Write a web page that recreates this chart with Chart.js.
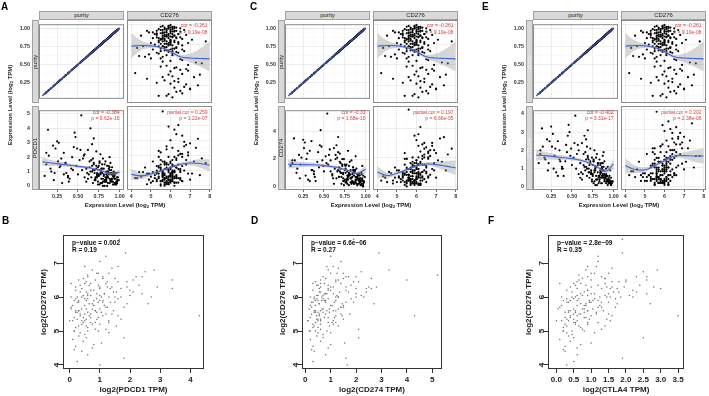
<!DOCTYPE html>
<html>
<head>
<meta charset="utf-8">
<script src="https://cdn.jsdelivr.net/npm/chart.js@4.4.1/dist/chart.umd.min.js"></script>
<style>
html, body { margin: 0; padding: 0; background: #fff; overflow: hidden; }
body { width: 709px; height: 396px; position: relative; font-family: "Liberation Sans", Arial, sans-serif; }
canvas { position: absolute; }
.lbl { position: absolute; white-space: nowrap; line-height: 1; color: #1a1a1a; }
.lbl sub { font-size: 70%; vertical-align: -0.2em; line-height: 0; }
.letter { font-size: 10px; font-weight: bold; color: #000; }
.atitle { font-size: 6px; font-weight: bold; color: #222; }
.strip-t { font-size: 6px; color: #1a1a1a; }
.strip-f { font-size: 6px; color: #f2f2f2; }
.cor { font-size: 5px; color: #dd3b3b; }
.pval { font-size: 6.5px; font-weight: bold; color: #111; line-height: 1; }
.strip { position: absolute; background: #d9d9d9; border: 0.5px solid #a0a0a0; box-sizing: border-box; }
</style>
</head>
<body>
<script>
// TIMER samples (tumour purity, CD276 and immune checkpoint genes, log2 TPM)
const purity = [
  0.92, 0.85, 0.78, 0.95, 0.66, 0.88, 0.72, 0.81, 0.97, 0.58,
  0.90, 0.76, 0.84, 0.69, 0.93, 0.79, 0.62, 0.87, 0.74, 0.96,
  0.45, 0.30, 0.18, 0.38, 0.25, 0.12, 0.50, 0.33, 0.21, 0.42,
  0.89, 0.83, 0.71, 0.94, 0.77, 0.68, 0.86, 0.91, 0.64, 0.80,
  0.73, 0.98, 0.82, 0.55, 0.88, 0.75, 0.92, 0.67, 0.85, 0.60,
  0.79, 0.94, 0.70, 0.87, 0.63, 0.96, 0.76, 0.83, 0.57, 0.90,
  0.15, 0.28, 0.35, 0.47, 0.10, 0.40, 0.23, 0.52, 0.31, 0.44,
  0.84, 0.72, 0.93, 0.78, 0.65, 0.89, 0.81, 0.97, 0.69, 0.86,
  0.74, 0.91, 0.58, 0.80, 0.95, 0.67, 0.85, 0.77, 0.62, 0.99,
  0.88, 0.71, 0.83, 0.93, 0.75, 0.60, 0.90, 0.82, 0.54, 0.79,
  0.86, 0.73, 0.96, 0.68, 0.84, 0.92, 0.78, 0.65, 0.87, 0.98,
  0.20, 0.36, 0.14, 0.48, 0.26, 0.39, 0.17, 0.53, 0.33, 0.46,
  0.82, 0.77, 0.91, 0.70, 0.86, 0.94, 0.73, 0.88, 0.80, 0.97,
  0.69, 0.84, 0.92, 0.76, 0.89, 0.66, 0.95, 0.81, 0.74, 0.87,
  0.93, 0.78, 0.85, 0.71, 0.90, 0.64, 0.83, 0.96, 0.75, 0.88,
  0.79, 0.91, 0.68, 0.86, 0.94, 0.72, 0.82, 0.97, 0.77, 0.89,
  0.85, 0.73, 0.92, 0.80, 0.67, 0.95, 0.84, 0.76, 0.90, 0.70,
  0.35, 0.22, 0.43, 0.12, 0.29, 0.49, 0.38, 0.56, 0.61, 0.27
];
const cd276 = [
  5.8, 6.1, 5.4, 5.9, 6.3, 5.2, 5.7, 6.0, 6.2, 5.5,
  4.9, 6.4, 5.6, 5.1, 6.0, 5.8, 6.1, 5.3, 6.6, 5.7,
  6.8, 6.2, 6.5, 5.9, 7.4, 5.8, 6.9, 6.4, 7.0, 6.0,
  5.5, 6.3, 4.3, 6.1, 5.0, 5.9, 5.6, 6.5, 5.4, 6.2,
  4.6, 5.9, 5.7, 6.0, 6.4, 5.2, 4.8, 6.7, 5.8, 5.6,
  6.0, 5.4, 6.2, 6.8, 4.9, 6.3, 5.5, 5.9, 6.5, 5.1,
  6.6, 5.3, 7.2, 6.3, 6.1, 4.2, 6.7, 7.6, 5.7, 6.5,
  6.1, 5.8, 5.6, 6.4, 5.3, 6.0, 7.1, 5.5, 6.6, 4.5,
  5.9, 6.2, 5.0, 5.4, 6.5, 6.1, 5.7, 6.9, 5.8, 6.0,
  5.9, 6.3, 5.1, 6.7, 6.0, 4.7, 5.7, 6.6, 5.6, 7.8,
  6.2, 5.6, 6.1, 5.7, 6.5, 5.3, 6.0, 6.4, 5.8, 5.6,
  7.0, 6.1, 5.9, 5.5, 6.8, 6.6, 6.3, 7.3, 4.8, 6.2,
  5.6, 5.9, 6.0, 5.5, 6.2, 5.8, 5.4, 6.1, 5.7, 5.9,
  6.0, 5.3, 6.3, 5.8, 5.6, 5.9, 6.2, 5.5, 6.1, 5.7,
  5.5, 6.2, 6.0, 5.7, 5.8, 6.1, 5.4, 6.0, 5.9, 6.4,
  5.6, 6.1, 5.8, 5.9, 5.7, 6.3, 5.5, 6.1, 6.0, 5.3,
  5.8, 5.6, 6.2, 6.0, 5.5, 5.9, 6.3, 5.7, 5.6, 6.1,
  5.6, 6.2, 6.9, 5.4, 6.4, 5.8, 7.5, 6.6, 4.4, 6.0
];
const pdcd1 = [
  0.3, 0.9, 1.2, 0.1, 1.8, 0.5, 1.4, 0.7, 0.2, 2.2,
  0.4, 1.1, 0.8, 1.6, 0.6, 0.2, 2.5, 0.9, 1.3, 0.1,
  2.7, 1.9, 1.0, 0.6, 3.1, 1.5, 0.8, 2.3, 0.4, 1.2,
  0.3, 1.7, 0.5, 0.8, 0.2, 1.9, 1.0, 0.5, 1.3, 0.0,
  0.9, 0.4, 1.5, 1.1, 2.0, 0.7, 0.1, 2.9, 0.6, 0.3,
  1.2, 0.5, 0.9, 1.4, 0.8, 0.2, 1.7, 0.4, 2.1, 0.9,
  2.1, 1.3, 1.6, 3.4, 0.7, 0.5, 2.6, 1.8, 0.2, 1.1,
  1.0, 2.4, 0.7, 0.5, 1.0, 1.6, 0.8, 0.3, 3.3, 0.6,
  0.1, 1.3, 0.6, 1.9, 0.9, 1.4, 0.0, 2.2, 0.5, 0.4,
  1.1, 0.6, 0.3, 1.0, 0.8, 1.2, 0.5, 0.3, 4.9, 1.5,
  0.2, 0.7, 0.9, 1.1, 0.4, 0.8, 0.2, 4.0, 1.2, 0.6,
  2.8, 0.9, 3.9, 1.4, 1.7, 0.3, 1.2, 2.5, 0.8, 3.7,
  0.4, 0.9, 0.3, 1.1, 0.6, 0.2, 0.8, 1.3, 0.5, 0.4,
  1.5, 0.3, 0.7, 0.1, 0.9, 0.6, 0.5, 1.2, 0.3, 0.8,
  0.1, 1.0, 0.7, 0.4, 1.1, 1.7, 0.6, 0.3, 1.4, 0.2,
  0.9, 0.5, 0.2, 1.0, 0.7, 1.2, 0.0, 0.6, 0.8, 0.4,
  1.4, 0.6, 0.9, 0.3, 1.0, 0.2, 0.5, 1.6, 0.8, 0.4,
  1.6, 0.9, 2.0, 2.3, 1.4, 2.6, 0.7, 1.9, 0.9, 3.0
];
const cd274 = [
  0.5, 1.2, 0.8, 0.2, 2.1, 0.3, 1.6, 0.9, 0.1, 1.9,
  0.6, 1.5, 0.4, 1.1, 0.3, 0.7, 2.8, 1.0, 2.0, 0.5,
  3.0, 2.4, 1.3, 0.9, 3.4, 1.7, 1.1, 2.6, 0.6, 1.8,
  0.2, 1.9, 0.7, 0.6, 0.3, 1.4, 0.8, 0.9, 2.3, 0.1,
  1.0, 0.3, 1.2, 1.6, 2.2, 0.5, 0.2, 2.5, 1.4, 0.8,
  0.5, 0.1, 1.7, 1.2, 1.3, 0.4, 1.0, 0.2, 2.7, 0.7,
  1.9, 0.8, 3.3, 2.9, 1.5, 0.4, 2.1, 2.2, 0.5, 1.4,
  0.9, 2.0, 0.5, 1.1, 0.6, 1.3, 1.8, 0.0, 2.4, 0.3,
  0.4, 0.8, 1.1, 1.5, 1.0, 3.6, 0.3, 1.6, 0.2, 0.7,
  0.4, 1.0, 0.6, 0.8, 1.2, 0.9, 0.1, 0.6, 5.3, 2.6,
  0.2, 0.4, 1.5, 0.7, 0.3, 0.9, 0.2, 3.0, 1.1, 0.4,
  2.3, 1.2, 3.5, 1.9, 2.8, 0.7, 1.0, 1.7, 0.4, 4.1,
  0.6, 0.4, 0.5, 1.3, 0.2, 0.3, 0.9, 0.7, 1.0, 0.2,
  1.8, 0.4, 0.6, 0.3, 0.5, 1.1, 0.9, 0.8, 0.1, 1.2,
  0.4, 0.6, 1.4, 0.2, 0.9, 2.0, 0.3, 0.6, 1.6, 0.5,
  0.8, 0.2, 0.7, 1.1, 0.4, 1.5, 0.3, 0.8, 0.5, 0.7,
  1.0, 0.6, 0.4, 0.9, 1.2, 0.1, 0.7, 1.3, 0.6, 1.0,
  1.2, 1.6, 2.5, 1.9, 2.0, 1.5, 1.1, 2.3, 0.6, 3.2
];
const ctla4 = [
  0.4, 1.0, 1.1, 0.2, 1.9, 0.6, 1.3, 0.8, 0.1, 2.0,
  0.5, 1.4, 0.9, 1.7, 0.3, 0.4, 2.4, 0.7, 1.6, 0.2,
  2.8, 2.1, 1.5, 1.1, 3.3, 1.8, 1.2, 2.5, 0.9, 1.4,
  0.4, 1.5, 0.8, 0.5, 0.3, 2.2, 1.0, 0.7, 1.2, 0.1,
  0.9, 0.2, 1.3, 1.0, 1.9, 0.6, 0.3, 2.6, 0.8, 0.5,
  1.1, 0.4, 1.5, 1.7, 0.7, 0.3, 1.4, 0.6, 2.3, 0.5,
  2.2, 1.0, 2.0, 3.0, 1.3, 0.6, 2.5, 1.6, 0.8, 1.9,
  1.2, 2.1, 0.4, 0.9, 1.1, 1.4, 1.3, 0.1, 3.1, 0.5,
  0.3, 1.0, 0.7, 1.8, 0.6, 1.5, 0.2, 2.0, 0.4, 0.3,
  0.9, 1.2, 0.3, 1.1, 0.7, 1.3, 0.5, 0.6, 3.9, 1.6,
  0.2, 0.8, 0.9, 1.0, 0.7, 0.4, 0.1, 2.8, 1.3, 0.3,
  2.6, 1.4, 3.2, 1.7, 2.2, 1.0, 1.6, 2.4, 0.6, 3.4,
  0.5, 0.8, 0.2, 1.0, 0.6, 0.3, 0.7, 1.1, 0.4, 0.2,
  1.6, 0.5, 0.6, 0.2, 0.7, 0.9, 0.4, 1.2, 0.4, 0.9,
  0.1, 1.0, 0.8, 0.5, 0.6, 1.8, 0.4, 0.3, 1.2, 0.5,
  0.6, 0.3, 0.6, 1.1, 0.2, 1.4, 0.2, 0.5, 0.9, 0.3,
  1.3, 0.7, 0.6, 0.4, 1.1, 0.2, 0.8, 1.5, 0.5, 0.8,
  1.5, 1.3, 2.3, 2.0, 1.7, 2.1, 1.0, 1.8, 0.8, 2.9
];

// smoothing curves
const diagX = [0.07, 1.0];
const purityGrid = [0.07, 0.2, 0.35, 0.5, 0.65, 0.8, 0.9, 1.0];
const cd276Grid = [4, 4.5, 5, 5.5, 6, 6.5, 7, 7.5, 8];
const fitPurity = [0.73, 0.74, 0.735, 0.715, 0.665, 0.60, 0.585, 0.58, 0.575];
const loPurity  = [0.58, 0.68, 0.71, 0.70, 0.645, 0.575, 0.53, 0.48, 0.42];
const hiPurity  = [0.89, 0.80, 0.76, 0.73, 0.685, 0.625, 0.64, 0.70, 0.79];
const fitPdcd1Pur = [1.68, 1.58, 1.48, 1.36, 1.25, 1.02, 0.85, 0.95];
const loPdcd1Pur  = [1.38, 1.38, 1.33, 1.26, 1.17, 0.94, 0.75, 0.75];
const hiPdcd1Pur  = [1.98, 1.78, 1.63, 1.46, 1.33, 1.10, 0.95, 1.15];
const fitPdcd1Cd = [0.75, 0.65, 0.78, 0.98, 1.2, 1.42, 1.5, 1.47, 1.35];
const loPdcd1Cd  = [0.40, 0.45, 0.65, 0.90, 1.12, 1.32, 1.35, 1.20, 0.95];
const hiPdcd1Cd  = [1.10, 0.85, 0.91, 1.06, 1.28, 1.52, 1.65, 1.74, 1.75];
const fitCd274Pur = [1.62, 1.60, 1.58, 1.52, 1.40, 1.15, 0.97, 1.25];
const loCd274Pur  = [1.30, 1.38, 1.42, 1.40, 1.31, 1.06, 0.86, 0.95];
const hiCd274Pur  = [1.94, 1.82, 1.74, 1.64, 1.49, 1.24, 1.08, 1.55];
const fitCd274Cd = [1.0, 0.75, 0.9, 1.15, 1.4, 1.55, 1.5, 1.4, 1.28];
const loCd274Cd  = [0.6, 0.55, 0.78, 1.06, 1.32, 1.44, 1.3, 1.05, 0.78];
const hiCd274Cd  = [1.4, 0.95, 1.02, 1.24, 1.48, 1.66, 1.7, 1.75, 1.78];
const fitCtla4Pur = [1.75, 1.70, 1.62, 1.55, 1.40, 1.10, 0.85, 1.25];
const loCtla4Pur  = [1.45, 1.50, 1.48, 1.45, 1.32, 1.02, 0.74, 0.98];
const hiCtla4Pur  = [2.05, 1.90, 1.76, 1.65, 1.48, 1.18, 0.96, 1.52];
const fitCtla4Cd = [1.1, 0.9, 0.88, 1.1, 1.35, 1.6, 1.62, 1.6, 1.6];
const loCtla4Cd  = [0.7, 0.7, 0.76, 1.02, 1.27, 1.5, 1.45, 1.3, 1.2];
const hiCtla4Cd  = [1.5, 1.1, 1.0, 1.18, 1.43, 1.7, 1.79, 1.9, 2.0];

// axis breaks
const purityTicks = [0.25, 0.5, 0.75, 1.0];
const purityMinor = [0.125, 0.375, 0.625, 0.875];
const cd276Ticks = [4, 5, 6, 7, 8];
const cd276Minor = [4.5, 5.5, 6.5, 7.5];
const pdcd1Ticks = [0, 1, 2, 3, 4, 5];
const pdcd1Minor = [0.5, 1.5, 2.5, 3.5, 4.5];
const cd274Ticks = [0, 2, 4];
const cd274Minor = [1, 3, 5];
const ctla4Ticks = [0, 1, 2, 3, 4];
const ctla4Minor = [0.5, 1.5, 2.5, 3.5];

// GEPIA samples
const gepiaCd276 = [
  5.45, 7.2, 7.3, 4.1, 4.0, 6.8, 6.5, 6.25, 4.2, 4.8,
  5.3, 6.4, 5.9, 5.6, 6.1, 5.0, 5.75, 6.3, 5.4, 6.6,
  5.2, 5.95, 6.0, 5.5, 4.75, 6.2, 5.85, 5.65, 6.45, 5.1,
  6.05, 5.35, 5.8, 6.7, 4.45, 6.15, 5.55, 5.9, 6.35, 5.25,
  5.7, 6.55, 4.9, 6.0, 5.45, 6.25, 5.15, 5.85, 6.9, 5.6,
  6.1, 5.0, 5.75, 6.4, 4.6, 5.3, 6.0, 5.5, 6.3, 5.95,
  7.7, 6.5, 5.65, 4.4, 6.2, 5.8, 5.4, 6.65, 5.05, 5.9,
  6.15, 5.35, 6.8, 5.7, 4.85, 6.05, 5.55, 6.35, 5.2, 6.25,
  4.65, 5.6, 6.45, 5.3, 6.0, 5.85, 4.3, 6.55, 5.45, 5.95,
  6.6, 5.15, 5.75, 6.3, 4.95, 5.65, 6.1, 5.25, 6.75, 5.5,
  5.6, 6.2, 5.3, 5.9, 6.4, 5.1, 5.75, 6.05, 5.45, 6.6,
  5.85, 6.3, 5.55, 4.95, 6.15, 5.7, 6.5, 5.25, 6.0, 5.4,
  6.7, 5.65, 6.1, 5.0, 5.95, 6.35, 5.5, 6.25, 4.7, 5.8,
  6.45, 5.2, 6.0, 5.6, 6.55, 5.35, 6.2, 5.9, 4.55, 6.1,
  5.45, 6.4, 5.75, 6.85, 5.05, 6.0, 5.55, 6.3, 5.85, 7.05,
  5.3, 5.95, 6.15, 5.65, 6.6, 4.8, 6.05, 5.5, 6.35, 5.15,
  5.8, 6.25, 5.4, 6.5, 5.7, 6.0, 4.5, 5.9, 6.7, 5.25,
  6.15, 5.55, 6.05, 5.35, 6.45, 5.0, 5.85, 6.3, 5.6, 6.9
];
const gepiaPdcd1 = [
  4.3, 1.2, 1.85, 0.25, 1.0, 2.8, 3.4, 3.4, 1.8, 1.8,
  0.0, 0.05, 0.3, 0.2, 0.6, 0.15, 0.5, 1.0, 0.7, 1.1,
  0.4, 0.9, 1.3, 0.35, 0.1, 0.8, 1.5, 0.55, 1.25, 0.6,
  2.0, 0.25, 0.75, 0.9, 0.15, 1.45, 1.05, 0.15, 2.3, 0.85,
  1.2, 0.45, 0.5, 0.4, 0.65, 1.7, 1.55, 0.95, 1.6, 0.3,
  2.4, 0.95, 1.15, 0.7, 0.8, 1.3, 0.05, 1.4, 1.9, 0.6,
  1.65, 2.1, 0.05, 0.4, 0.2, 2.6, 0.45, 0.6, 1.2, 1.1,
  0.35, 0.9, 0.75, 1.8, 0.3, 1.0, 0.2, 0.95, 0.75, 1.35,
  1.05, 0.85, 0.55, 0.1, 2.7, 0.3, 0.6, 1.5, 1.6, 0.5,
  2.2, 0.55, 0.8, 0.2, 1.3, 1.0, 1.15, 0.45, 2.5, 0.7,
  0.3, 0.7, 0.5, 1.0, 1.2, 0.2, 0.8, 0.45, 1.1, 0.6,
  0.25, 1.4, 0.9, 0.35, 0.55, 1.25, 0.85, 0.7, 1.05, 0.15,
  1.3, 0.4, 0.9, 0.6, 1.6, 0.35, 0.5, 1.0, 0.45, 0.65,
  1.9, 1.0, 0.25, 1.45, 1.1, 0.55, 2.0, 0.8, 0.2, 1.15,
  0.35, 0.5, 0.1, 1.4, 0.85, 1.7, 0.6, 1.25, 1.35, 1.0,
  0.4, 0.2, 1.55, 0.75, 2.4, 0.55, 0.7, 1.2, 0.65, 0.3,
  1.9, 0.4, 0.95, 0.3, 0.05, 1.5, 0.75, 0.55, 0.95, 1.3,
  2.1, 0.25, 0.6, 1.7, 1.6, 0.15, 1.1, 2.9, 0.85, 0.5
];
const gepiaCd274 = [
  4.3, 1.0, 2.9, 0.3, 1.65, 3.3, 4.0, 2.6, 1.6, 2.1,
  0.1, 0.3, 0.5, 0.6, 0.8, 0.2, 0.4, 1.1, 0.9, 1.6,
  0.3, 0.7, 1.3, 0.25, 0.2, 1.0, 1.9, 0.7, 1.2, 0.5,
  2.2, 0.6, 0.55, 1.5, 0.25, 1.7, 0.95, 0.4, 1.8, 1.2,
  1.4, 0.8, 0.7, 0.65, 0.45, 2.4, 1.3, 1.15, 1.1, 0.35,
  2.0, 0.85, 1.5, 0.6, 1.0, 1.1, 0.2, 1.75, 2.5, 0.9,
  1.9, 1.3, 0.15, 0.35, 0.3, 2.7, 0.75, 5.2, 2.1, 0.65,
  0.55, 0.5, 0.9, 1.4, 0.45, 1.25, 0.5, 0.45, 0.6, 2.0,
  1.55, 0.85, 0.4, 0.1, 2.3, 0.25, 0.8, 2.6, 1.45, 0.35,
  1.7, 0.95, 1.05, 0.6, 1.0, 1.3, 0.75, 0.4, 2.2, 0.55,
  0.4, 0.9, 0.6, 0.8, 1.4, 0.3, 1.0, 0.5, 1.2, 0.7,
  0.3, 1.6, 0.7, 0.5, 0.6, 1.5, 1.2, 0.9, 1.3, 0.2,
  1.0, 0.65, 1.1, 0.4, 1.8, 0.5, 0.8, 0.9, 0.6, 0.55,
  2.1, 1.1, 0.35, 1.2, 1.5, 0.45, 1.6, 1.2, 0.3, 0.85,
  0.55, 0.75, 0.2, 1.3, 0.6, 2.0, 0.35, 1.0, 1.6, 1.4,
  0.5, 0.45, 1.35, 0.95, 2.0, 0.7, 0.45, 1.4, 0.9, 0.35,
  1.45, 0.55, 1.15, 0.6, 0.25, 1.2, 0.9, 0.75, 1.25, 1.05,
  2.4, 0.4, 0.7, 1.5, 1.9, 0.15, 0.8, 2.8, 1.1, 0.85
];
const gepiaCtla4 = [
  3.5, 1.2, 1.9, 0.5, 0.3, 2.9, 2.6, 3.0, 1.9, 2.5,
  0.0, 0.1, 0.4, 0.35, 0.7, 0.2, 0.6, 1.0, 0.8, 1.3,
  0.25, 1.1, 1.45, 0.5, 0.1, 0.9, 1.5, 0.75, 1.6, 0.7,
  2.1, 0.3, 0.85, 1.0, 0.2, 1.8, 1.15, 0.2, 2.4, 0.9,
  1.3, 0.75, 0.45, 0.55, 0.6, 1.75, 1.4, 0.95, 1.15, 0.55,
  2.6, 0.8, 1.25, 0.5, 0.7, 1.55, 0.15, 1.5, 1.95, 0.65,
  1.9, 2.0, 0.05, 0.25, 0.3, 2.7, 0.4, 0.65, 1.3, 1.05,
  0.45, 0.95, 0.85, 1.7, 0.35, 1.4, 0.25, 1.2, 0.55, 1.55,
  1.0, 0.9, 0.6, 0.15, 2.2, 0.35, 0.6, 1.4, 1.6, 0.5,
  2.3, 0.65, 0.8, 0.4, 1.1, 1.05, 1.5, 0.5, 2.5, 0.7,
  0.4, 0.9, 0.6, 1.2, 1.4, 0.2, 0.85, 0.6, 1.0, 0.9,
  0.3, 1.6, 0.8, 0.3, 0.8, 1.2, 1.0, 0.55, 1.25, 0.25,
  1.5, 0.5, 1.0, 0.45, 1.7, 0.55, 0.65, 1.3, 0.4, 0.7,
  2.0, 0.9, 0.45, 1.35, 1.4, 0.5, 2.2, 0.95, 0.25, 1.1,
  0.4, 0.7, 0.15, 1.6, 0.75, 1.85, 0.55, 1.45, 1.3, 1.2,
  0.35, 0.3, 1.65, 0.8, 2.6, 0.5, 0.75, 1.15, 0.85, 0.3,
  1.75, 0.6, 0.85, 0.65, 0.1, 1.55, 0.6, 0.6, 1.1, 1.2,
  2.3, 0.35, 0.9, 1.45, 1.8, 0.2, 1.0, 2.8, 0.9, 0.9
];
const gepiaYTicks = [4, 5, 6, 7];
const gepiaPdcd1Ticks = [0, 1, 2, 3, 4];
const gepiaCd274Ticks = [0, 1, 2, 3, 4, 5];
const gepiaCtla4Ticks = [0, 0.5, 1, 1.5, 2, 2.5, 3, 3.5];

// statistics printed on the panels
const corPurity = ['cor = -0.261', 'p = 9.19e-08'];
const corText = {
  A: [['cor = -0.384', 'p = 9.62e-16'], ['partial.cor = 0.259', 'p = 1.22e-07']],
  C: [['cor = -0.31', 'p = 1.68e-10'], ['partial.cor = 0.197', 'p = 6.66e-05']],
  E: [['cor = -0.402', 'p = 3.31e-17'], ['partial.cor = 0.202', 'p = 2.38e-06']]
};
const gepiaStats = {
  B: ['p\u2212value = 0.002', 'R = 0.19'],
  D: ['p\u2212value = 6.6e\u221206', 'R = 0.27'],
  F: ['p\u2212value = 2.8e\u221209', 'R = 0.35']
};

Chart.defaults.font.family = '"Liberation Sans", Arial, sans-serif';

const frame = {
  id: 'frame',
  afterDatasetsDraw(chart, args, opts) {
    const a = chart.chartArea, ctx = chart.ctx;
    ctx.save();
    ctx.strokeStyle = opts.color || '#888';
    ctx.lineWidth = 1;
    ctx.strokeRect(a.left + 0.5, a.top + 0.5, a.right - a.left - 1, a.bottom - a.top - 1);
    ctx.restore();
  }
};

function pairs(xs, ys) { return xs.map((x, i) => ({x: x, y: ys[i]})); }

function makeCanvas(l, t, w, h) {
  const cv = document.createElement('canvas');
  cv.width = w; cv.height = h;
  cv.style.left = l + 'px'; cv.style.top = t + 'px';
  cv.style.width = w + 'px'; cv.style.height = h + 'px';
  document.body.appendChild(cv);
  return cv;
}

function label(html, x, y, cls, align) {
  const d = document.createElement('div');
  d.className = 'lbl ' + (cls || '');
  d.innerHTML = html;
  d.style.left = x + 'px';
  d.style.top = y + 'px';
  const tr = {c: 'translate(-50%,-50%)', l: 'translate(0,-50%)', r: 'translate(-100%,-50%)', v: 'translate(-50%,-50%) rotate(-90deg)'};
  d.style.transform = tr[align || 'c'];
  document.body.appendChild(d);
}

function strip(x, y, w, h) {
  const d = document.createElement('div');
  d.className = 'strip';
  d.style.left = x + 'px'; d.style.top = y + 'px';
  d.style.width = w + 'px'; d.style.height = h + 'px';
  document.body.appendChild(d);
}

function dots(xs, ys) {
  return {type: 'scatter', data: pairs(xs, ys), pointRadius: 1.1, backgroundColor: '#000', borderWidth: 0, order: 3};
}

function smooth(xs, fit, lo, hi) {
  return [
    {type: 'line', data: pairs(xs, fit), borderColor: '#3d66e0', borderWidth: 1.1, pointRadius: 0, tension: 0.4, fill: false, order: 0},
    {type: 'line', data: pairs(xs, lo), borderColor: 'rgba(0,0,0,0)', borderWidth: 0, pointRadius: 0, tension: 0.4, fill: false, order: 2},
    {type: 'line', data: pairs(xs, hi), borderColor: 'rgba(0,0,0,0)', borderWidth: 0, pointRadius: 0, tension: 0.4, fill: '-1', backgroundColor: 'rgba(153,153,153,0.4)', order: 1}
  ];
}

function fAxis(range, major, minor, size, show, fmt, isX) {
  const all = major.concat(minor).sort((a, b) => a - b);
  const isMaj = c => c.tick && major.includes(c.tick.value);
  return {
    type: 'linear', min: range[0], max: range[1],
    afterBuildTicks: s => { s.ticks = all.map(v => ({value: v})); },
    afterFit: s => { if (isX) s.height = size; else s.width = size; },
    border: {display: false},
    grid: {
      color: c => isMaj(c) ? '#e8e8e8' : '#f4f4f4',
      lineWidth: c => isMaj(c) ? 0.8 : 0.5,
      drawTicks: isX && show, tickLength: 2,
      tickColor: c => isMaj(c) ? '#444' : 'rgba(0,0,0,0)'
    },
    ticks: {
      display: show, autoSkip: false, maxRotation: 0, minRotation: 0, padding: isX ? 1 : 9,
      color: '#333', font: {size: 5.3, weight: 'bold'},
      callback: v => major.includes(v) ? fmt(v) : ''
    }
  };
}

function facet(o) {
  const P = 8;
  const ml = o.yShow ? 30 : 0, mb = o.xShow ? 12 : 0;
  const cv = makeCanvas(o.l - ml - P, o.t - P, o.w + ml + 2 * P, o.h + mb + 2 * P);
  new Chart(cv, {
    type: 'scatter',
    data: {datasets: o.sets},
    options: {
      responsive: false, animation: false, events: [], devicePixelRatio: 1,
      layout: {padding: P},
      plugins: {legend: {display: false}, tooltip: {enabled: false}, frame: {color: '#8c8c8c'}},
      scales: {
        x: fAxis(o.xr, o.xT, o.xM, mb, o.xShow, o.xFmt, true),
        y: fAxis(o.yr, o.yT, o.yM, ml, o.yShow, o.yFmt, false)
      }
    },
    plugins: [frame]
  });
}

const purRange = [0.032, 1.053];
const cdRange = [3.78, 8.12];
const fmt2 = v => v.toFixed(2);
const fmt0 = v => String(v);

function timerBlock(letter, x0, gene, geneName, yr, gT, gM, fitP, loP, hiP, fitC, loC, hiC, faded) {
  const l1 = x0, l2 = x0 + 88, w = 85, t1 = 20, h1 = 83, t2 = 106, h2 = 84;
  facet({l: l1, t: t1, w: w, h: h1, xr: purRange, yr: purRange, xT: purityTicks, xM: purityMinor, yT: purityTicks, yM: purityMinor,
    xShow: false, yShow: true, xFmt: fmt2, yFmt: fmt2,
    sets: [{type: 'line', data: pairs(diagX, diagX), borderColor: '#3d55b0', borderWidth: 1.4, pointRadius: 0, fill: false, order: 0}, dots(purity, purity)]});
  facet({l: l2, t: t1, w: w, h: h1, xr: cdRange, yr: purRange, xT: cd276Ticks, xM: cd276Minor, yT: purityTicks, yM: purityMinor,
    xShow: false, yShow: false, xFmt: fmt0, yFmt: fmt2,
    sets: smooth(cd276Grid, fitPurity, loPurity, hiPurity).concat([dots(cd276, purity)])});
  facet({l: l1, t: t2, w: w, h: h2, xr: purRange, yr: yr, xT: purityTicks, xM: purityMinor, yT: gT, yM: gM,
    xShow: true, yShow: true, xFmt: fmt2, yFmt: fmt0,
    sets: smooth(purityGrid, fitP, loP, hiP).concat([dots(purity, gene)])});
  facet({l: l2, t: t2, w: w, h: h2, xr: cdRange, yr: yr, xT: cd276Ticks, xM: cd276Minor, yT: gT, yM: gM,
    xShow: true, yShow: false, xFmt: fmt0, yFmt: fmt0,
    sets: smooth(cd276Grid, fitC, loC, hiC).concat([dots(cd276, gene)])});

  // strips
  strip(l1, 11, w, 8.5);
  strip(l2, 11, w, 8.5);
  label('purity', l1 + w / 2, 15.3, 'strip-t');
  label('CD276', l2 + w / 2, 15.3, 'strip-t');
  strip(l1 - 7, t1, 6.5, h1);
  strip(l1 - 7, t2, 6.5, h2);
  label('purity', l1 - 3.7, t1 + h1 / 2, faded ? 'strip-f' : 'strip-t', 'v');
  label(geneName, l1 - 3.7, t2 + h2 / 2, faded ? 'strip-f' : 'strip-t', 'v');

  // annotations
  label(corPurity[0], l2 + w - 4.5, t1 + 5.3, 'cor', 'r');
  label(corPurity[1], l2 + w - 4.5, t1 + 12, 'cor', 'r');
  label(corText[letter][0][0], l1 + w - 4.5, t2 + 5.5, 'cor', 'r');
  label(corText[letter][0][1], l1 + w - 4.5, t2 + 12.2, 'cor', 'r');
  label(corText[letter][1][0], l2 + w - 4.5, t2 + 5.5, 'cor', 'r');
  label(corText[letter][1][1], l2 + w - 4.5, t2 + 12.2, 'cor', 'r');

  // titles
  label('Expression Level (log<sub>2</sub> TPM)', x0 - 29, 105, 'atitle', 'v');
  label('Expression Level (log<sub>2</sub> TPM)', x0 + 86, 205, 'atitle');
}

timerBlock('A', 39, pdcd1, 'PDCD1', [-0.28, 5.26], pdcd1Ticks, pdcd1Minor,
  fitPdcd1Pur, loPdcd1Pur, hiPdcd1Pur, fitPdcd1Cd, loPdcd1Cd, hiPdcd1Cd, false);
timerBlock('C', 285, cd274, 'CD274', [-0.25, 5.55], cd274Ticks, cd274Minor,
  fitCd274Pur, loCd274Pur, hiCd274Pur, fitCd274Cd, loCd274Cd, hiCd274Cd, false);
timerBlock('E', 533, ctla4, 'CTLA4', [-0.17, 4.2], ctla4Ticks, ctla4Minor,
  fitCtla4Pur, loCtla4Pur, hiCtla4Pur, fitCtla4Cd, loCtla4Cd, hiCtla4Cd, true);

function gepia(o) {
  const P = 10, ml = 25, mb = 26;
  const cv = makeCanvas(o.l - ml - P, o.t - P, o.w + ml + 2 * P, o.h + mb + 2 * P);
  const tickFont = {size: 8, weight: 'bold'};
  const titleFont = {size: 8, weight: 'bold'};
  new Chart(cv, {
    type: 'scatter',
    data: {datasets: [{data: pairs(o.xs, o.ys), pointRadius: 0.75, backgroundColor: '#6e6e6e', borderWidth: 0}]},
    options: {
      responsive: false, animation: false, events: [], devicePixelRatio: 1,
      layout: {padding: P},
      plugins: {legend: {display: false}, tooltip: {enabled: false}, frame: {color: '#333'}},
      scales: {
        x: {
          type: 'linear', min: o.xr[0], max: o.xr[1],
          afterBuildTicks: s => { s.ticks = o.xT.map(v => ({value: v})); },
          afterFit: s => { s.height = mb; },
          border: {display: false},
          grid: {drawOnChartArea: false, tickLength: 4, tickColor: '#333'},
          ticks: {autoSkip: false, maxRotation: 0, padding: 1.5, color: '#222', font: tickFont, callback: o.xFmt},
          title: {display: true, text: o.xTitle, color: '#222', font: titleFont, padding: 0}
        },
        y: {
          type: 'linear', min: 3.88, max: 7.83,
          afterBuildTicks: s => { s.ticks = gepiaYTicks.map(v => ({value: v})); },
          afterFit: s => { s.width = ml; },
          border: {display: false},
          grid: {drawOnChartArea: false, tickLength: 4, tickColor: '#333'},
          ticks: {autoSkip: false, minRotation: 90, maxRotation: 90, crossAlign: 'center', padding: 0, color: '#222', font: tickFont, callback: v => String(v)},
          title: {display: true, text: 'log2(CD276 TPM)', color: '#222', font: titleFont, padding: {top: 1, bottom: 0}}
        }
      }
    },
    plugins: [frame]
  });
  label(o.stats[0], o.l + 9, o.t + 7.5, 'pval', 'l');
  label(o.stats[1], o.l + 9, o.t + 15, 'pval', 'l');
}

gepia({l: 63, t: 235, w: 141, h: 134, xr: [-0.22, 4.45], xT: gepiaPdcd1Ticks, xFmt: v => String(v),
  xTitle: 'log2(PDCD1 TPM)', xs: gepiaPdcd1, ys: gepiaCd276, stats: gepiaStats.B});
gepia({l: 302, t: 235, w: 140, h: 134, xr: [-0.13, 5.38], xT: gepiaCd274Ticks, xFmt: v => String(v),
  xTitle: 'log2(CD274 TPM)', xs: gepiaCd274, ys: gepiaCd276, stats: gepiaStats.D});
gepia({l: 548, t: 235, w: 136, h: 134, xr: [-0.24, 3.67], xT: gepiaCtla4Ticks, xFmt: v => v.toFixed(1),
  xTitle: 'log2(CTLA4 TPM)', xs: gepiaCtla4, ys: gepiaCd276, stats: gepiaStats.F});

// panel letters
label('A', 1, 7, 'letter', 'l');
label('C', 250, 7, 'letter', 'l');
label('E', 482, 7, 'letter', 'l');
label('B', 2, 221, 'letter', 'l');
label('D', 251, 221, 'letter', 'l');
label('F', 488, 221, 'letter', 'l');
</script>
</body>
</html>
